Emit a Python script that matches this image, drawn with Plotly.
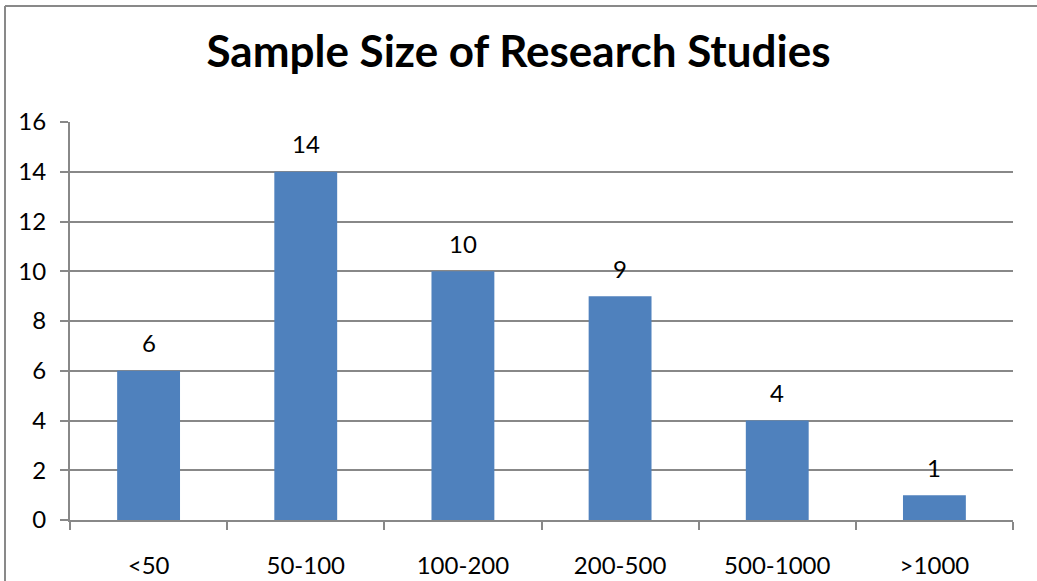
import plotly.graph_objects as go

categories = ["<50", "50-100", "100-200", "200-500", "500-1000", ">1000"]
counts = [6, 14, 10, 9, 4, 1]
y_ticks = [0, 2, 4, 6, 8, 10, 12, 14, 16]
title_text = "Sample Size of Research Studies"

W, H = 1037, 581
L, R, T, B = 70, 24, 122, 61
pw, ph = W - L - R, H - T - B

FONT = "Lato"
GRID = "#888888"
FS = 24

fig = go.Figure()
fig.add_trace(go.Bar(
    x=categories, y=counts,
    marker=dict(color="#4F81BD", line=dict(width=0)),
    width=0.4,
    hoverinfo="x+y",
))

for c, v in zip(categories, counts):
    fig.add_annotation(x=c, y=v, text=str(v), showarrow=False,
                       yanchor="middle", yshift=28,
                       font=dict(family=FONT, size=FS, color="#000000"))

# chart frame (left and top edges, extending beyond the window)
fx0 = (5 - L) / pw
fy1 = (H - B - 6) / ph
fig.add_shape(type="line", xref="paper", yref="paper",
              x0=fx0, x1=fx0, y0=fy1, y1=-0.5,
              line=dict(color="#898989", width=2))
fig.add_shape(type="line", xref="paper", yref="paper",
              x0=fx0, x1=1.2, y0=fy1, y1=fy1,
              line=dict(color="#898989", width=2))

fig.update_layout(
    width=W, height=H,
    margin=dict(l=L, r=R, t=T, b=B, autoexpand=False),
    paper_bgcolor="white", plot_bgcolor="white",
    showlegend=False,
    bargap=0.6,
    title=dict(text="<b>" + title_text + "</b>", x=0.5, xref="container",
               xanchor="center", y=1 - 52 / H, yanchor="middle",
               font=dict(family=FONT, size=44, color="#000000")),
    font=dict(family=FONT, size=FS, color="#000000"),
)
fig.update_xaxes(
    type="category", tickson="boundaries",
    ticks="outside", ticklen=8, tickcolor=GRID, tickwidth=2,
    showline=True, linecolor=GRID, linewidth=2,
    showgrid=False, ticklabelstandoff=23,
    tickfont=dict(family=FONT, size=FS, color="#000000"),
    fixedrange=True,
)
fig.update_yaxes(
    range=[0, 16], tickvals=y_ticks,
    ticks="outside", ticklen=8, tickcolor=GRID, tickwidth=2,
    showline=True, linecolor=GRID, linewidth=2,
    showgrid=True, gridcolor=GRID, gridwidth=2,
    zeroline=False, ticklabelstandoff=9,
    tickfont=dict(family=FONT, size=FS, color="#000000"),
    fixedrange=True,
)

fig.write_html("out.html",
               config={"displayModeBar": False},
               post_script="document.body.style.margin='0';document.body.style.overflow='hidden';")
